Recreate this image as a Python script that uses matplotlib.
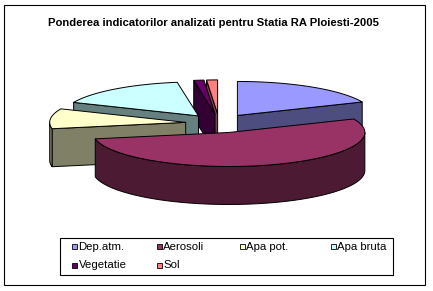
import numpy as np
import matplotlib
matplotlib.use("Agg")
import matplotlib.pyplot as plt
from matplotlib.patches import Polygon, Rectangle
from matplotlib.colors import to_rgb

categories = ["Dep.atm.", "Aerosoli", "Apa pot.", "Apa bruta", "Vegetatie", "Sol"]
values = [18.5, 53.5, 9.5, 16.0, 1.2, 1.3]
top_colors = ["#9999FF", "#993366", "#FFFFCC", "#CCFFFF", "#660066", "#FF8080"]
title = "Ponderea indicatorilor analizati pentru Statia RA Ploiesti-2005"


def darken(c, f=0.5):
    r, g, b = to_rgb(c)
    return (r * f, g * f, b * f)


W, H = 433, 291
fig = plt.figure(figsize=(W / 100, H / 100), dpi=100)
ax = fig.add_axes([0, 0, 1, 1])
ax.set_xlim(0, W)
ax.set_ylim(H, 0)
ax.axis("off")

FONT = "Liberation Sans"
LW = 0.7

# 3D pie layout
CX, CY = 219.0, 123.4
RX, RY, HT = 136.0, 34.0, 38.0
EX, EY = 33.5, 9.5


def rim(theta, cx, cy, z=0.0):
    t = np.radians(theta)
    return (cx + RX * np.sin(t), cy - RY * np.cos(t) + z)


total = float(sum(values))
angles = np.concatenate([[0.0], np.cumsum(values) / total * 360.0])

slices = []
for i, v in enumerate(values):
    a0, a1 = angles[i], angles[i + 1]
    mid = np.radians((a0 + a1) / 2)
    cx = CX + EX * np.sin(mid)
    cy = CY - EY * np.cos(mid)
    slices.append((cy, i, a0, a1, cx))

slices.sort(key=lambda s: s[0])

for cy, i, a0, a1, cx in slices:
    top = top_colors[i]
    side = darken(top)
    kw = dict(closed=True, edgecolor="black", linewidth=LW, joinstyle="miter")
    # start cut face
    if np.sin(np.radians(a0)) < -1e-9:
        p = rim(a0, cx, cy)
        poly = [(cx, cy), p, (p[0], p[1] + HT), (cx, cy + HT)]
        ax.add_patch(Polygon(poly, facecolor=side, **kw))
    # end cut face
    if np.sin(np.radians(a1)) > 1e-9:
        p = rim(a1, cx, cy)
        poly = [(cx, cy), p, (p[0], p[1] + HT), (cx, cy + HT)]
        ax.add_patch(Polygon(poly, facecolor=side, **kw))
    # outer side
    s, e = max(a0, 90.0), min(a1, 270.0)
    if s < e:
        th = np.linspace(s, e, 80)
        upper = [rim(t, cx, cy) for t in th]
        lower = [rim(t, cx, cy, HT) for t in th[::-1]]
        ax.add_patch(Polygon(upper + lower, facecolor=side, **kw))
    # top face
    th = np.linspace(a0, a1, max(4, int((a1 - a0) * 2)))
    poly = [(cx, cy)] + [rim(t, cx, cy) for t in th]
    ax.add_patch(Polygon(poly, facecolor=top, **kw))

# title
ax.text(214, 22.5, title, ha="center", va="center", fontsize=8.1,
        fontweight="bold", family=FONT)

# outer border
ax.add_patch(Rectangle((4, 5), 421, 280, fill=False, edgecolor="black", linewidth=0.8))

# legend
ax.add_patch(Rectangle((60, 238), 333, 37, fill=False, edgecolor="black", linewidth=0.8))
col_x = [72, 156.5, 240, 330.5]
row_y = [246.5, 265]
for i, name in enumerate(categories):
    x = col_x[i % 4]
    y = row_y[i // 4]
    ax.add_patch(Rectangle((x, y - 2.5), 5, 5, facecolor=top_colors[i],
                           edgecolor="black", linewidth=0.6))
    ax.text(x + 6.5, y, name, ha="left", va="center", fontsize=8.2, family=FONT)

fig.savefig("out.png", dpi=100)
